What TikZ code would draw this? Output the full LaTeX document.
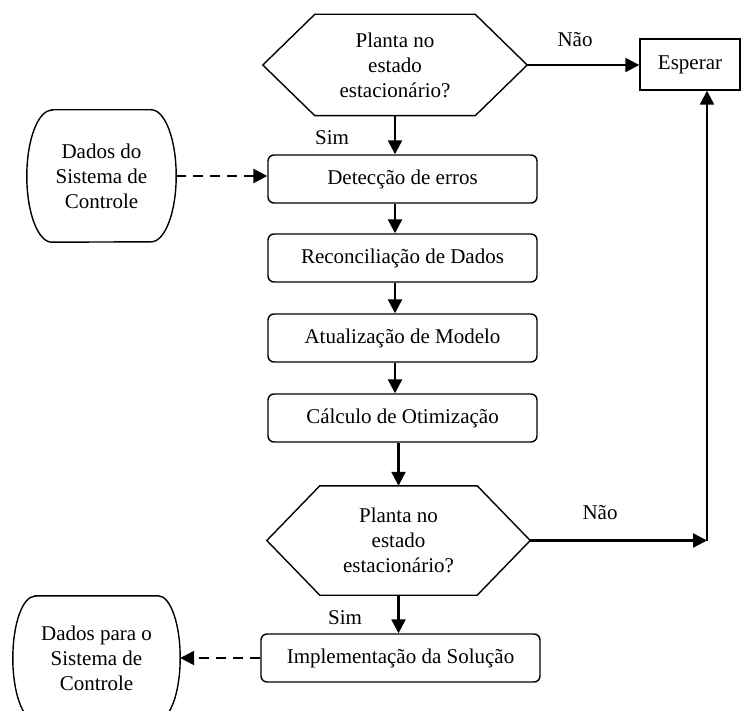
\documentclass[tikz,border=0pt]{standalone}
\usepackage{fontspec}
\setmainfont{Liberation Serif}
\usetikzlibrary{arrows.meta,calc}

% hexagonal decision outline around a node: #1 node name, #2 horizontal inset of the points
\newcommand\drawhex[2]{%
  \draw[outline] (#1.west) -- ([xshift=#2]#1.north west) -- ([xshift=-#2]#1.north east)
    -- (#1.east) -- ([xshift=-#2]#1.south east) -- ([xshift=#2]#1.south west) -- cycle;}
% terminal outline with half-elliptic sides: #1 node name, #2 side depth, #3 half height
\newcommand\drawterm[3]{%
  \draw[outline] ([xshift=#2pt]#1.north west) -- ([xshift=-#2pt]#1.north east)
    arc[start angle=90, end angle=-90, x radius=#2pt, y radius=#3pt]
    -- ([xshift=#2pt]#1.south west)
    arc[start angle=270, end angle=90, x radius=#2pt, y radius=#3pt] -- cycle;}

\begin{document}
\begin{tikzpicture}[x=1pt,y=-1pt,
  every node/.style={font=\fontsize{21}{25}\selectfont, align=center, inner sep=0pt},
  outline/.style={draw=black, line width=1.4pt, line join=miter},
  procbox/.style={outline, rounded corners=6pt, minimum width=269pt, minimum height=48pt},
  waitbox/.style={outline, minimum width=100pt, minimum height=51pt},
  hexnode/.style={minimum width=264pt},
  termnode/.style={},
  arr/.style={draw=black, line width=2.4pt, -{Triangle[length=14pt,width=14pt]}},
  darr/.style={arr, dash pattern=on 10pt off 7pt}]

\useasboundingbox (0,0) rectangle (741,711);
\clip (0,0) rectangle (741,711);

% decisions
\node[hexnode, minimum height=101pt] (q1) at (395,65) {Planta no\\estado\\estacion\'ario?};
\drawhex{q1}{52pt}
\node[hexnode, minimum width=263pt, minimum height=109pt] (q2) at (398.5,540.5) {Planta no\\estado\\estacion\'ario?};
\drawhex{q2}{53pt}

% process steps
\node[waitbox] (esp) at (690,64.5) {Esperar};
\node[procbox] (det) at (402.5,179) {Detecção de erros};
\node[procbox] (rec) at (402.5,258) {Reconciliação de Dados};
\node[procbox] (atu) at (402.5,338) {Atualização de Modelo};
\node[procbox] (cal) at (402.5,418) {Cálculo de Otimização};
\node[procbox, minimum width=279pt] (imp) at (400.5,658) {Implementação da Solução};

% control system data terminals
\node[termnode, minimum width=149pt, minimum height=132pt] (d1) at (101.5,176) {Dados do\\Sistema de\\Controle};
\drawterm{d1}{25}{66}
\node[termnode, minimum width=167pt, minimum height=124pt] (d2) at (96.5,658) {Dados para o\\Sistema de\\Controle};
\drawterm{d2}{22}{62}

% branch labels
\node (n1) at (575,40) {Não};
\node (s1) at (332,138) {Sim};
\node (n2) at (600,513) {Não};
\node (s2) at (345,618) {Sim};

% main flow
\draw[arr] (q1.east) -- (q1.east -| esp.west);
\draw[arr] (q1.south) -- (q1.south |- det.north);
\draw[arr] (det.south -| q1.south) -- (rec.north -| q1.south);
\draw[arr] (rec.south -| q1.south) -- (atu.north -| q1.south);
\draw[arr] (atu.south -| q1.south) -- (cal.north -| q1.south);
\draw[arr] (cal.south -| q2.north) -- (q2.north);
\draw[arr] (q2.south) -- (q2.south |- imp.north);

% loop back to waiting
\coordinate (c2) at (707,540.5);
\draw[arr] (q2.east) -- (c2);
\draw[arr] (c2) -- (c2 |- esp.south);

% data exchange
\draw[darr] (d1.east) -- (d1.east -| det.west);
\draw[darr] (imp.west) -- (imp.west -| d2.east);

\end{tikzpicture}
\end{document}
